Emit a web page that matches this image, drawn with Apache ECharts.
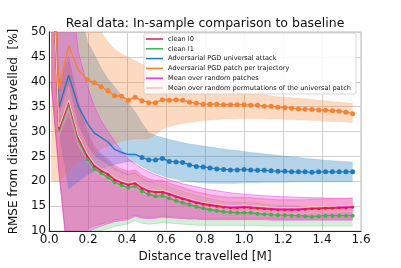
<!DOCTYPE html>
<html><head><meta charset="utf-8">
<script src="https://cdn.jsdelivr.net/npm/echarts@6/dist/echarts.min.js"></script>
<style>html,body{margin:0;padding:0;background:#fff}#c{width:401px;height:268px}</style>
</head><body><div id="c"></div>
<script>
// ---- data ----
const distance = [0.01, 0.05, 0.10, 0.15, 0.197, 0.232, 0.267, 0.302, 0.336, 0.371, 0.406, 0.441, 0.476, 0.511, 0.546, 0.581, 0.616, 0.651, 0.685, 0.720, 0.755, 0.790, 0.825, 0.860, 0.895, 0.930, 0.965, 1.000, 1.034, 1.069, 1.104, 1.139, 1.174, 1.209, 1.244, 1.279, 1.313, 1.348, 1.383, 1.418, 1.453, 1.488, 1.523, 1.557];

const cleanL0 = [70, 30.5, 36.0, 28.7, 25.1, 23.1, 22.1, 21.4, 20.3, 19.7, 19.3, 19.6, 18.6, 18.0, 17.8, 17.8, 17.4, 16.9, 16.5, 16.1, 15.7, 15.4, 15.2, 15.0, 14.8, 14.7, 14.7, 14.8, 14.7, 14.6, 14.5, 14.4, 14.3, 14.3, 14.3, 14.3, 14.4, 14.5, 14.5, 14.6, 14.6, 14.7, 14.7, 14.8];
const cleanL1 = [70, 30.0, 35.5, 28.2, 24.5, 22.5, 21.6, 20.8, 19.8, 19.2, 18.7, 19.0, 18.0, 17.4, 17.0, 17.1, 16.6, 16.1, 15.7, 15.3, 14.9, 14.6, 14.3, 14.1, 13.9, 13.8, 13.7, 13.7, 13.7, 13.5, 13.4, 13.3, 13.2, 13.2, 13.1, 13.1, 13.0, 12.9, 13.0, 13.1, 13.1, 13.1, 13.1, 13.1];
const universal = [70, 34.8, 41.3, 35.0, 31.6, 29.7, 28.8, 27.9, 26.4, 25.8, 25.4, 25.4, 24.8, 24.3, 24.3, 24.6, 24.0, 23.9, 23.8, 23.3, 23.0, 22.9, 22.7, 22.5, 22.4, 22.3, 22.3, 22.4, 22.3, 22.2, 22.2, 22.1, 22.0, 22.0, 21.9, 21.9, 21.9, 21.8, 21.9, 21.9, 21.9, 21.9, 21.9, 21.9];
const perTrajectory = [70, 38.6, 47.3, 42.3, 40.4, 39.8, 39.0, 38.2, 37.2, 37.1, 36.3, 36.9, 36.2, 35.8, 35.8, 36.4, 36.3, 36.4, 36.3, 35.9, 35.7, 35.5, 35.5, 35.5, 35.4, 35.4, 35.4, 35.4, 35.3, 35.3, 35.1, 35.1, 34.9, 34.8, 34.7, 34.55, 34.5, 34.45, 34.35, 34.3, 34.2, 34.1, 33.9, 33.6];
const randomPatches = [70, 30.7, 36.2, 28.9, 25.3, 23.3, 22.3, 21.6, 20.5, 19.9, 19.5, 19.8, 18.8, 18.2, 18.0, 18.0, 17.6, 17.1, 16.7, 16.3, 15.9, 15.6, 15.4, 15.2, 15.0, 14.9, 14.9, 15.0, 14.9, 14.8, 14.7, 14.6, 14.5, 14.5, 14.5, 14.5, 14.6, 14.7, 14.7, 14.8, 14.8, 14.9, 14.9, 15.0];
const permutations = [70, 30.9, 36.4, 29.1, 25.5, 23.5, 22.5, 21.8, 20.7, 20.1, 19.7, 20.0, 19.0, 18.4, 18.2, 18.2, 17.8, 17.3, 16.9, 16.5, 16.1, 15.8, 15.6, 15.4, 15.2, 15.1, 15.1, 15.2, 15.1, 15.0, 14.9, 14.8, 14.7, 14.7, 14.7, 14.7, 14.8, 14.9, 14.9, 15.0, 15.0, 15.1, 15.1, 15.2];

// shaded bands (lower / upper edges)
const cleanL0Low = [40, 22, 3, 6, 10.4, 11.0, 11.4, 11.8, 12.2, 12.4, 12.6, 13.2, 12.8, 12.7, 12.8, 13.0, 12.9, 12.8, 12.7, 12.6, 12.6, 12.5, 12.5, 12.5, 12.5, 12.5, 12.5, 12.5, 12.5, 12.5, 12.5, 12.4, 12.4, 12.4, 12.4, 12.4, 12.4, 12.4, 12.4, 12.4, 12.4, 12.4, 12.4, 12.4];
const cleanL0Up = [80, 40, 45, 36, 30, 27, 25.5, 24.5, 23.2, 22.5, 22.0, 22.3, 21.2, 20.5, 20.2, 20.2, 19.7, 19.2, 18.8, 18.3, 17.9, 17.6, 17.3, 17.1, 16.9, 16.8, 16.8, 16.8, 16.7, 16.6, 16.5, 16.4, 16.3, 16.3, 16.3, 16.3, 16.3, 16.4, 16.4, 16.5, 16.5, 16.5, 16.5, 16.6];
const cleanL1Low = [40, 22, 4, 6, 9.0, 9.6, 10.1, 10.5, 10.9, 11.2, 11.5, 12.1, 11.6, 11.4, 11.5, 11.7, 11.6, 11.5, 11.4, 11.3, 11.2, 11.2, 11.1, 11.1, 11.1, 11.1, 11.1, 11.1, 11.1, 11.1, 11.0, 11.0, 11.0, 11.0, 11.0, 11.0, 11.0, 11.0, 11.0, 11.0, 11.0, 11.0, 11.0, 11.0];
const cleanL1Up = [80, 40, 44, 35, 29, 26.3, 25, 24, 22.7, 22.0, 21.4, 21.7, 20.6, 19.9, 19.5, 19.5, 19.0, 18.5, 18.0, 17.6, 17.2, 16.8, 16.5, 16.2, 16.0, 15.9, 15.8, 15.8, 15.7, 15.6, 15.4, 15.3, 15.2, 15.2, 15.1, 15.1, 15.0, 14.9, 15.0, 15.1, 15.1, 15.1, 15.1, 15.1];
const universalLow = [60, 30, 18.4, 20.0, 21.3, 22.0, 22.5, 23.0, 23.4, 23.7, 24.0, 23.8, 23.0, 22.2, 21.6, 21.1, 20.7, 20.4, 20.1, 19.9, 19.8, 19.7, 19.6, 19.6, 19.6, 19.6, 19.6, 19.7, 19.7, 19.7, 19.8, 19.8, 19.8, 19.8, 19.9, 19.9, 19.9, 19.9, 19.9, 19.9, 19.9, 19.9, 19.9, 19.9];
const universalUp = [90, 75, 70, 55, 48, 45.5, 42.7, 40.5, 39.0, 37.3, 35.7, 34.0, 31.7, 29.8, 29.2, 28.8, 28.4, 28.1, 27.8, 27.5, 27.3, 27.1, 26.9, 26.7, 26.5, 26.3, 26.2, 26.0, 25.8, 25.7, 25.5, 25.4, 25.2, 25.1, 24.95, 24.8, 24.65, 24.5, 24.4, 24.25, 24.15, 24.05, 23.95, 23.9];
const perTrajectoryLow = [20, 20, 22, 24, 25.0, 25.8, 26.5, 27.0, 27.5, 28.0, 28.3, 28.5, 28.5, 28.6, 29.4, 30.5, 31.0, 31.3, 31.6, 31.8, 32.0, 32.2, 32.3, 32.4, 32.5, 32.5, 32.6, 32.6, 32.6, 32.6, 32.6, 32.5, 32.5, 32.4, 32.4, 32.3, 32.3, 32.2, 32.2, 32.1, 32.0, 32.0, 31.9, 31.8];
const perTrajectoryUp = [90, 80, 78, 68, 58, 54, 50, 48, 46.6, 45.6, 45.0, 44.2, 43.5, 43.0, 42.5, 42.0, 41.5, 41.0, 40.6, 40.2, 39.9, 39.6, 39.3, 39.0, 38.7, 38.4, 38.2, 38.0, 37.8, 37.6, 37.4, 37.2, 37.0, 36.9, 36.8, 36.7, 36.6, 36.5, 36.3, 36.2, 36.0, 35.9, 35.8, 35.7];
const randomPatchesLow = [40, 22, 2, 5, 9.8, 10.5, 11.0, 11.5, 11.9, 12.1, 12.3, 13.0, 12.6, 12.5, 12.6, 12.8, 12.7, 12.6, 12.5, 12.4, 12.4, 12.3, 12.3, 12.3, 12.3, 12.3, 12.3, 12.3, 12.3, 12.3, 12.3, 12.2, 12.2, 12.2, 12.2, 12.2, 12.2, 12.2, 12.2, 12.2, 12.2, 12.2, 12.2, 12.2];
const randomPatchesUp = [90, 80, 62, 46, 39, 35, 32.2, 30.0, 28.0, 26.2, 24.5, 23.5, 22.6, 21.9, 21.3, 20.8, 20.3, 19.9, 19.5, 19.2, 18.9, 18.6, 18.3, 18.1, 17.9, 17.7, 17.55, 17.4, 17.3, 17.2, 17.1, 17.0, 16.95, 16.9, 16.85, 16.8, 16.75, 16.7, 16.7, 16.65, 16.6, 16.6, 16.6, 16.6];
const permutationsLow = [60, 29, 34, 27.2, 24.0, 22.0, 21.0, 20.4, 19.4, 18.8, 18.4, 18.7, 17.7, 17.1, 16.9, 16.9, 16.5, 16.0, 15.6, 15.2, 14.8, 14.5, 14.3, 14.1, 13.9, 13.8, 13.8, 13.9, 13.8, 13.7, 13.6, 13.5, 13.4, 13.4, 13.4, 13.4, 13.5, 13.6, 13.6, 13.7, 13.7, 13.8, 13.8, 13.9];
const permutationsUp = [80, 33, 39, 31, 27, 25, 24, 23.2, 22.0, 21.4, 21.0, 21.3, 20.3, 19.7, 19.5, 19.5, 19.1, 18.6, 18.2, 17.8, 17.4, 17.1, 16.9, 16.7, 16.5, 16.4, 16.4, 16.5, 16.4, 16.3, 16.2, 16.1, 16.0, 16.0, 16.0, 16.0, 16.1, 16.2, 16.2, 16.3, 16.3, 16.4, 16.4, 16.5];

const xTicks = [0.0, 0.2, 0.4, 0.6, 0.8, 1.0, 1.2, 1.4, 1.6];
const yTicks = [10, 15, 20, 25, 30, 35, 40, 45, 50];
const seriesNames = ['clean l0', 'clean l1', 'Adversarial PGD universal attack', 'Adversarial PGD patch per trajectory', 'Mean over random patches', 'Mean over random permutations of the universal patch'];

// ---- sanity check ----
const all = {cleanL0, cleanL1, universal, perTrajectory, randomPatches, permutations, cleanL0Low, cleanL0Up, cleanL1Low, cleanL1Up, universalLow, universalUp, perTrajectoryLow, perTrajectoryUp, randomPatchesLow, randomPatchesUp, permutationsLow, permutationsUp};
for (const k in all) { if (all[k].length !== distance.length) throw new Error(k + ' has ' + all[k].length + ' values, expected ' + distance.length); }

const FONT = 'DejaVu Sans';
const C = {red:'#e6194b', green:'#3cb44b', blue:'#1f7bc0', orange:'#f58231', magenta:'#f032e6', pink:'#fabebe'};

function pts(arr){ return distance.map((x,i)=>[x, arr[i]]); }

// band drawn as one filled polygon through the library's coordinate mapping
function band(id, low, up, color, opacity, edgeOpacity){
  return {
    name:id, type:'custom', clip:true, silent:true, z:1, animation:false,
    data: distance.map((x,i)=>[x, low[i], up[i]]),
    encode:{x:0, y:[1,2]},
    renderItem:function(params, api){
      if (params.dataIndex !== 0) return null;
      const upper = distance.map((x,i)=>api.coord([x, up[i]]));
      const lower = distance.map((x,i)=>api.coord([x, low[i]]));
      const poly = upper.concat(lower.slice().reverse());
      return {type:'group', children:[
        {type:'polygon', shape:{points:poly}, style:{fill:color, opacity:opacity}},
        {type:'polyline', shape:{points:upper}, style:{stroke:color, fill:null, lineWidth:0.8, opacity:edgeOpacity}},
        {type:'polyline', shape:{points:lower}, style:{stroke:color, fill:null, lineWidth:0.8, opacity:edgeOpacity}}
      ]};
    }
  };
}
function line(name, arr, color, width, symStart, symSize, z){
  return {name:name, type:'line', data:pts(arr), color:color, lineStyle:{width:width, color:color}, itemStyle:{color:color},
    symbol:'circle', showSymbol:true, symbolSize:function(v, p){ return p.dataIndex >= symStart ? symSize : 0; },
    z:z, animation:false, silent:true};
}

const chart = echarts.init(document.getElementById('c'), null, {renderer:'canvas'});
chart.setOption({
  animation:false,
  backgroundColor:'#fff',
  textStyle:{fontFamily:FONT},
  grid:{left:49, right:40, top:32, bottom:34, show:true, borderColor:'#bdbdbd', borderWidth:1, backgroundColor:'transparent'},
  xAxis:{type:'value', min:xTicks[0], max:xTicks[xTicks.length-1], interval:0.2,
    name:'Distance travelled [M]', nameLocation:'middle', nameGap:19,
    nameTextStyle:{fontSize:12, color:'#111', fontFamily:FONT},
    axisLine:{show:true, onZero:false, lineStyle:{color:'#222', width:1}},
    axisTick:{show:false},
    axisLabel:{fontSize:12, color:'#111', margin:3, fontFamily:FONT, formatter:v=>v.toFixed(1)},
    splitLine:{show:true, lineStyle:{color:'#cfcfcf', width:1}}},
  yAxis:{type:'value', min:yTicks[0], max:yTicks[yTicks.length-1], interval:5,
    name:'RMSE from distance travelled  [%]', nameLocation:'middle', nameGap:21,
    nameTextStyle:{fontSize:12, color:'#111', fontFamily:FONT},
    axisLine:{show:true, onZero:false, lineStyle:{color:'#222', width:1}},
    axisTick:{show:false},
    axisLabel:{fontSize:12, color:'#111', margin:3, fontFamily:FONT},
    splitLine:{show:true, lineStyle:{color:'#cfcfcf', width:1}}},
  legend:{show:true, orient:'vertical', left:144, top:33, z:20,
    data:seriesNames.map(n=>({name:n, icon:'rect'})),
    itemWidth:17, itemHeight:1.5, itemGap:1.8,
    padding:[2,5,2,2], backgroundColor:'rgba(255,255,255,0.85)', borderColor:'#cccccc', borderWidth:0.8, borderRadius:2,
    textStyle:{fontSize:6.6, lineHeight:8, color:'#111', fontFamily:FONT}},
  graphic:[{type:'text', x:205, y:17, z:30, style:{text:'Real data: In-sample comparison to baseline', fontSize:12.5, fontFamily:FONT, fill:'#111', textAlign:'center'}}],
  series:[
    band('bandL1', cleanL1Low, cleanL1Up, C.green, 0.22, 0.3),
    band('bandL0', cleanL0Low, cleanL0Up, C.red, 0.25, 0.3),
    band('bandUni', universalLow, universalUp, C.blue, 0.33, 0.2),
    band('bandTraj', perTrajectoryLow, perTrajectoryUp, C.orange, 0.3, 0.15),
    band('bandRand', randomPatchesLow, randomPatchesUp, C.magenta, 0.3, 0.6),
    band('bandPerm', permutationsLow, permutationsUp, C.pink, 0.3, 0.3),
    line(seriesNames[4], randomPatches, C.magenta, 1.4, 999, 0, 3),
    line(seriesNames[2], universal, C.blue, 1.4, 12, 5, 4),
    line(seriesNames[3], perTrajectory, C.orange, 1.4, 4, 5, 4),
    line(seriesNames[1], cleanL1, C.green, 1.4, 4, 4, 5),
    line(seriesNames[0], cleanL0, C.red, 1.4, 4, 3, 6),
    line(seriesNames[5], permutations, C.pink, 1.2, 999, 0, 7)
  ]
});
</script>
</body></html>
